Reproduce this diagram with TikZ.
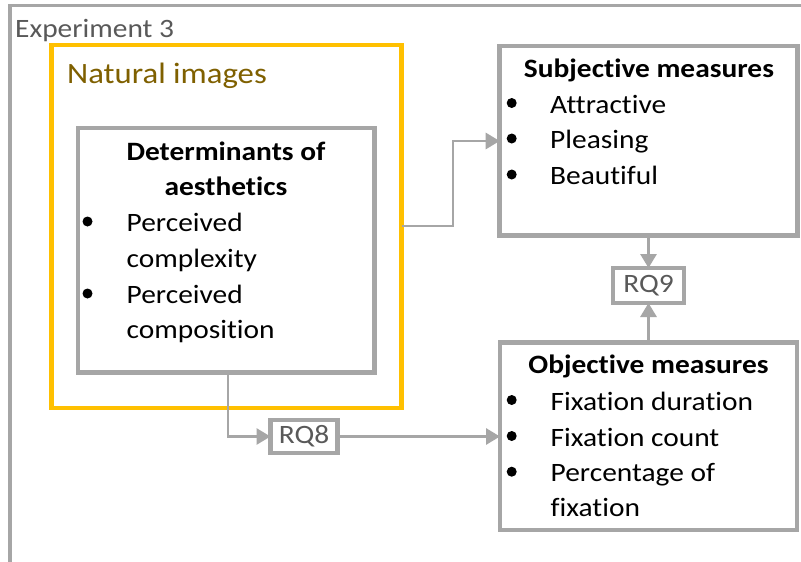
\documentclass[tikz,border=0pt]{standalone}
\usepackage{fontspec}
\setmainfont{Carlito}[FakeStretch=1.11, Ligatures=NoCommon]
\usetikzlibrary{arrows.meta}

\definecolor{linegray}{HTML}{A6A6A6}
\definecolor{labelgray}{HTML}{595959}
\definecolor{groupgold}{HTML}{FFC000}
\definecolor{groupolive}{HTML}{7F6000}

\tikzset{
  panel/.style={draw=linegray, line width=4.6pt, fill=white, inner sep=0pt, outer sep=0pt},
  goldpanel/.style={draw=groupgold, line width=4.6pt, inner sep=0pt, outer sep=0pt},
  rqbox/.style={draw=linegray, line width=4.6pt, fill=white, inner sep=0pt, outer sep=0pt,
    font=\fontsize{26.5}{30}\selectfont, text=labelgray},
  heading/.style={font=\fontsize{26.5}{30}\selectfont\bfseries, anchor=base, inner sep=0pt},
  item/.style={font=\fontsize{26.5}{30}\selectfont, anchor=base west, inner sep=0pt},
  dot/.style={circle, fill=black, inner sep=0pt, minimum size=10pt},
  flow/.style={draw=linegray, line width=2.9pt, -{Triangle[length=14pt, width=16pt]}},
}

\begin{document}
\begin{tikzpicture}[x=1pt, y=-1pt]
\useasboundingbox (0,0) rectangle (801,562);
\fill[white] (0,0) rectangle (801,562);

% outer experiment frame (open to the right and bottom)
\draw[linegray, line width=3.6pt] (9.7,562) -- (9.7,5.3) -- (801,5.3);
\node[anchor=base west, inner sep=0pt, text=labelgray, font=\fontsize{26.5}{30}\selectfont]
  (exp) at (15,37) {Experiment 3};

% natural images group
\node[goldpanel, anchor=north west, minimum width=350pt, minimum height=363pt]
  (nat) at (51.7,45) {};
\node[anchor=base west, inner sep=0pt, text=groupolive, font=\fontsize{29.5}{34}\selectfont]
  (natlabel) at (67,83.5) {Natural images};

% determinants box
\node[panel, anchor=north west, minimum width=296.5pt, minimum height=244.5pt]
  (det) at (78,128) {};
\node[heading] (dett1) at (226,160) {Determinants of};
\node[heading] (dett2) at (226,195) {aesthetics};
\node[dot] (detb1) at (87.5,221.5) {};
\node[item] (deti1) at (126.5,231.5) {Perceived};
\node[item] (deti2) at (126.5,267) {complexity};
\node[dot] (detb2) at (87.5,293.5) {};
\node[item] (deti3) at (126.5,303.5) {Perceived};
\node[item] (deti4) at (126.5,338.5) {composition};

% subjective measures box
\node[panel, anchor=north west, minimum width=298pt, minimum height=189.5pt]
  (subj) at (499.7,46) {};
\node[heading] (subjt) at (649,77) {Subjective measures};
\foreach \y/\t [count=\i] in {113/Attractive, 148.5/Pleasing, 184.5/Beautiful}{
  \node[dot] (subjb\i) at (511.7,\y-10) {};
  \node[item] (subji\i) at (550,\y) {\t};
}

% objective measures box
\node[panel, anchor=north west, minimum width=297pt, minimum height=187.5pt]
  (obj) at (500,342.5) {};
\node[heading] (objt) at (648.5,373.3) {Objective measures};
\foreach \y/\t [count=\i] in {410/Fixation duration, 446/Fixation count, 481.7/Percentage of}{
  \node[dot] (objb\i) at (511.7,\y-10) {};
  \node[item] (obji\i) at (550.5,\y) {\t};
}
\node[item] (obji4) at (550.5,516.7) {fixation};

% research question labels
\node[rqbox, minimum width=67pt, minimum height=33pt] (rq8) at (304,436.5) {RQ8};
\node[rqbox, minimum width=71pt, minimum height=35pt] (rq9) at (648.5,285.5) {RQ9};

% connectors
\coordinate (natout) at (nat.east |- 0,226);
\draw[flow] (natout) -- (453,226) |- (subj.west |- 0,141);
\draw[flow] (subj.south -| rq9.north) -- (rq9.north);
\draw[flow] (obj.north -| rq9.south) -- (rq9.south);
\draw[flow] (det.south -| 228,0) |- (rq8.west);
\draw[flow] (rq8.east) -- (obj.west |- rq8.east);
\end{tikzpicture}
\end{document}
